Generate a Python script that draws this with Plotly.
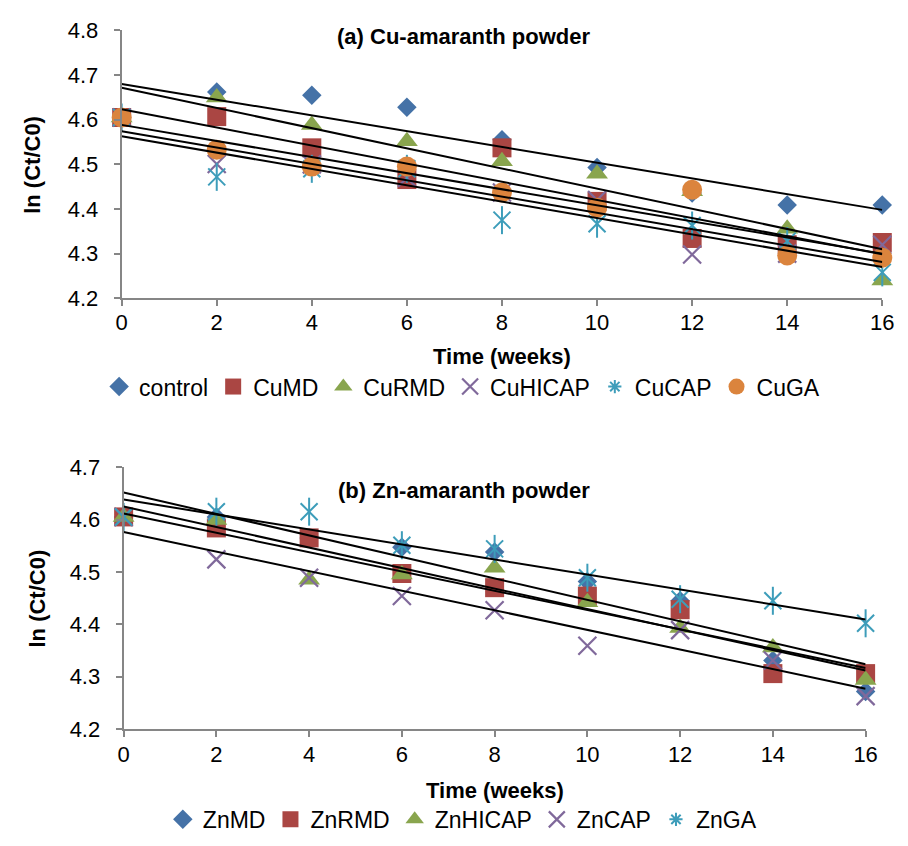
import numpy as np
import plotly.graph_objects as go

# ---- data -------------------------------------------------------------
weeks = [0, 2, 4, 6, 8, 10, 12, 14, 16]

cu_names = ["control", "CuMD", "CuRMD", "CuHICAP", "CuCAP", "CuGA"]
control = [4.605, 4.662, 4.655, 4.628, 4.555, 4.493, 4.436, 4.409, 4.409]
cu_md = [4.605, 4.607, 4.537, 4.466, 4.537, 4.417, 4.334, 4.320, 4.325]
cu_rmd = [4.605, 4.650, 4.588, 4.552, 4.507, 4.479, 4.440, 4.356, 4.240]
cu_hicap = [4.605, 4.501, 4.500, 4.470, 4.437, 4.420, 4.298, 4.300, 4.320]
cu_cap = [4.605, 4.472, 4.490, 4.490, 4.375, 4.367, 4.363, 4.328, 4.258]
cu_ga = [4.605, 4.533, 4.495, 4.495, 4.437, 4.403, 4.443, 4.296, 4.291]

zn_names = ["ZnMD", "ZnRMD", "ZnHICAP", "ZnCAP", "ZnGA"]
zn_md = [4.605, 4.605, 4.565, 4.547, 4.538, 4.482, 4.445, 4.331, 4.272]
zn_rmd = [4.605, 4.584, 4.565, 4.497, 4.470, 4.454, 4.428, 4.306, 4.306]
zn_hicap = [4.605, 4.599, 4.485, 4.495, 4.508, 4.442, 4.393, 4.356, 4.294]
zn_cap = [4.605, 4.524, 4.489, 4.454, 4.427, 4.359, 4.389, 4.331, 4.263]
zn_ga = [4.605, 4.615, 4.615, 4.551, 4.544, 4.489, 4.448, 4.445, 4.402]

x_ticks = [0, 2, 4, 6, 8, 10, 12, 14, 16]
y_ticks_a = [4.2, 4.3, 4.4, 4.5, 4.6, 4.7, 4.8]
y_ticks_b = [4.2, 4.3, 4.4, 4.5, 4.6, 4.7]

# ---- styling ----------------------------------------------------------
FONT = "Arial, 'Liberation Sans', sans-serif"
AXIS_GREY = "#868686"
styles = [
    dict(symbol="diamond", color="#4572A7", size=15),
    dict(symbol="square", color="#AA4643", size=19),
    dict(symbol="triangle-up", color="#89A54E", size=19),
    dict(symbol="x-thin", color="#80699B", size=18),
    dict(symbol="asterisk", color="#3D9DBA", size=17),
    dict(symbol="circle", color="#DB843D", size=20),
]

fig = go.Figure()


def add_series(name, values, style, xa, ya, legend):
    sym = style["symbol"]
    col = style["color"]
    common = dict(xaxis=xa, yaxis=ya, legend=legend, legendgroup=name,
                  cliponaxis=False)
    if sym == "asterisk":
        # six-armed star: a diagonal cross plus a vertical stem;
        # the legend entry uses a stand-alone star symbol
        fig.add_trace(go.Scatter(
            x=[None], y=[None], mode="markers", name=name,
            marker=dict(symbol="asterisk", size=11, color=col,
                        line=dict(color=col, width=2)), **common))
        fig.add_trace(go.Scatter(
            x=weeks, y=values, mode="markers", name=name, showlegend=False,
            marker=dict(symbol="x-thin", size=style["size"], color=col,
                        line=dict(color=col, width=2)), **common))
        fig.add_trace(go.Scatter(
            x=weeks, y=values, mode="markers", name=name, showlegend=False,
            marker=dict(symbol="line-ns", size=style["size"] + 3, color=col,
                        line=dict(color=col, width=2)), **common))
    elif sym == "x-thin":
        fig.add_trace(go.Scatter(
            x=weeks, y=values, mode="markers", name=name,
            marker=dict(symbol=sym, size=style["size"], color=col,
                        line=dict(color=col, width=2.2)), **common))
    else:
        fig.add_trace(go.Scatter(
            x=weeks, y=values, mode="markers", name=name,
            marker=dict(symbol=sym, size=style["size"], color=col,
                        line=dict(width=0)), **common))


def add_trend(values, xa, ya):
    slope, intercept = np.polyfit(weeks, values, 1)
    xs = [weeks[0], weeks[-1]]
    ys = [intercept + slope * v for v in xs]
    fig.add_trace(go.Scatter(
        x=xs, y=ys, mode="lines", showlegend=False, hoverinfo="skip",
        line=dict(color="black", width=2), xaxis=xa, yaxis=ya))


cu_series = [control, cu_md, cu_rmd, cu_hicap, cu_cap, cu_ga]
for name, vals, st in zip(cu_names, cu_series, styles):
    add_series(name, vals, st, "x", "y", "legend")
for vals in cu_series:
    add_trend(vals, "x", "y")

zn_series = [zn_md, zn_rmd, zn_hicap, zn_cap, zn_ga]
for name, vals, st in zip(zn_names, zn_series, styles[:5]):
    add_series(name, vals, st, "x2", "y2", "legend2")
for vals in zn_series:
    add_trend(vals, "x2", "y2")

W, H = 908, 846


def px_x(p):
    return p / W


def px_y(p):
    return 1 - p / H


axis_common = dict(
    showline=True, linecolor=AXIS_GREY, linewidth=2, showgrid=False,
    zeroline=False, ticks="outside", tickcolor=AXIS_GREY, ticklen=6,
    tickwidth=2, tickfont=dict(family=FONT, size=22, color="black"),
)

fig.update_layout(
    width=W, height=H,
    margin=dict(l=0, r=0, t=0, b=0),
    paper_bgcolor="white", plot_bgcolor="white",
    font=dict(family=FONT, size=22, color="black"),
    xaxis=dict(domain=[px_x(118), px_x(894)], range=[0, 16],
               tickvals=x_ticks, ticklabelstandoff=-3, anchor="y",
               **axis_common),
    yaxis=dict(domain=[px_y(295), px_y(19)], range=[4.2, 4.8],
               tickvals=y_ticks_a, tickformat=".1f", ticklabelstandoff=11,
               anchor="x", **axis_common),
    xaxis2=dict(domain=[px_x(120), px_x(877)], range=[0, 16],
                tickvals=x_ticks, ticklabelstandoff=-2, anchor="y2",
                **axis_common),
    yaxis2=dict(domain=[px_y(739), px_y(469)], range=[4.2, 4.7],
                tickvals=y_ticks_b, tickformat=".1f", ticklabelstandoff=11,
                anchor="x2", **axis_common),
    legend=dict(orientation="h", x=px_x(95), xanchor="left",
                y=px_y(386), yanchor="middle",
                font=dict(family=FONT, size=23), bgcolor="rgba(0,0,0,0)",
                itemclick=False),
    legend2=dict(orientation="h", x=px_x(160), xanchor="left",
                 y=px_y(832), yanchor="middle",
                 font=dict(family=FONT, size=23), bgcolor="rgba(0,0,0,0)",
                 itemclick=False),
    showlegend=True,
)

annotations = [
    dict(text="<b>(a) Cu-amaranth powder</b>", x=px_x(467), y=px_y(25),
         font=dict(size=22)),
    dict(text="<b>(b) Zn-amaranth powder</b>", x=px_x(467), y=px_y(493),
         font=dict(size=22)),
    dict(text="<b>Time (weeks)</b>", x=px_x(506), y=px_y(355),
         font=dict(size=22)),
    dict(text="<b>Time (weeks)</b>", x=px_x(499), y=px_y(802),
         font=dict(size=22)),
    dict(text="<b>ln (Ct/C0)</b>", x=px_x(27), y=px_y(157), textangle=-90,
         font=dict(size=22)),
    dict(text="<b>ln (Ct/C0)</b>", x=px_x(32), y=px_y(604), textangle=-90,
         font=dict(size=22)),
]
for a in annotations:
    a.update(xref="paper", yref="paper", showarrow=False,
             xanchor="center", yanchor="middle")
    a["font"].update(family=FONT, color="black")
fig.update_layout(annotations=annotations)

fig.write_html("out.html")
